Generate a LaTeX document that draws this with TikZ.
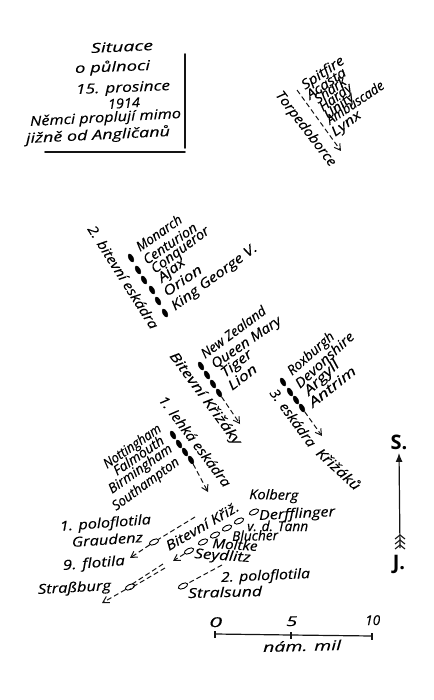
\documentclass[tikz,border=0pt]{standalone}
\usepackage{fontspec}
\setmainfont{Open Sans}[ItalicFeatures={FakeBold=0.25}]
\usetikzlibrary{shapes.geometric,arrows.meta}
\tikzset{
  ink/.style={black!92},
  rulerline/.style={ink,line width=1.6pt,line cap=round},
  shipfull/.style={ellipse,fill=black,draw=black,minimum width=9pt,minimum height=4.5pt,inner sep=0pt,rotate=-62},
  shipopen/.style={ellipse,draw=black,fill=white,line width=.9pt,minimum width=10pt,minimum height=5pt,inner sep=0pt,rotate=25},
  course/.style={ink,line width=1pt,dash pattern=on 5pt off 3pt},
  coursearrow/.style={course,-{Straight Barb[length=6pt,width=7pt,line width=1pt]}},
  handtext/.style={inner sep=0pt,anchor=base west,font=\itshape\fontsize{13.5}{14}\selectfont,text=black}
}
\newlength\handw
\newcommand{\handfont}{\itshape\fontsize{13.5}{14}\selectfont}
% name, start x,y, end x,y, text: fitted along the hand-written line
\newcommand{\hand}[6]{%
  \pgfinterruptpicture
    \setbox0=\hbox{\handfont #6}%
    \global\handw=\wd0\relax
  \endpgfinterruptpicture
  \pgfmathsetmacro\handang{atan2(#3-#5,#4-#2)}%
  \pgfmathsetmacro\handlen{veclen(#4-#2,#5-#3)}%
  \pgfmathsetmacro\handrat{\handlen/\the\handw}%
  \node[handtext,rotate=\handang] (#1) at (#2,#3) {\scalebox{\handrat}[1]{#6}};%
}
\begin{document}
\begin{tikzpicture}[x=1pt,y=-1pt]
\useasboundingbox (0,0) rectangle (433,700);
% title
\hand{t1}{91}{53}{153}{50}{Situace}
\hand{t2}{75}{73}{150}{70}{o půlnoci}
\hand{t3}{76}{94}{170}{90}{15. prosince}
\hand{t4}{108}{109}{140}{107}{1914}
\hand{t5}{30}{126}{181}{118}{Němci proplují mimo}
\hand{t6}{26}{143}{170}{136}{jižně od Angličanů}
\coordinate (ruleA) at (185,54);
\coordinate (ruleB) at (185,148);
\coordinate (ruleC) at (45,152);
\coordinate (ruleD) at (185,152);
\draw[rulerline] (ruleA) -- (ruleB);
\draw[rulerline] (ruleC) -- (ruleD);
% torpedo boats
\hand{torp}{275}{95}{330}{167}{Torpedoborce}
\hand{sp}{305}{90}{345}{63}{Spitfire}
\hand{ac}{310}{100}{347}{75}{Acasta}
\hand{sh}{318}{104}{347}{84}{Shark}
\hand{ha}{323}{112}{353}{90}{Hardy}
\hand{un}{328}{120}{355}{99}{Unity}
\hand{am}{330}{125}{385}{88}{Ambuscade}
\hand{ly}{335}{137}{362}{117}{Lynx}
\coordinate (tA) at (297,90);
\coordinate (tB) at (341,151);
\draw[coursearrow] (tA) -- (tB);
% 2nd battle squadron
\hand{b2}{87}{229}{151}{330}{2. bitevní eskádra}
\node[shipfull] (m1) at (131,258) {};
\node[shipfull] (m2) at (138,270) {};
\node[shipfull] (m3) at (144,280) {};
\node[shipfull] (m4) at (152,290) {};
\node[shipfull] (m5) at (158,301) {};
\node[shipfull] (m6) at (165,313) {};
\hand{n1}{140}{252}{183}{222}{Monarch}
\hand{n2}{147}{265}{198}{230}{Centurion}
\hand{n3}{155}{274}{210}{233}{Conqueror}
\hand{n4}{162}{283}{186}{264}{Ajax}
\hand{n5}{167}{297}{203}{272}{Orion}
\hand{n6}{175}{311}{258}{250}{King George V.}
% battle cruisers
\hand{bk}{169}{356}{235}{446}{Bitevní Křižáky}
\node[shipfull] (c1) at (201,366) {};
\node[shipfull] (c2) at (207,375) {};
\node[shipfull] (c3) at (213,384) {};
\node[shipfull] (c4) at (219,393) {};
\coordinate (cE) at (240,424);
\draw[coursearrow] (c4) -- (cE);
\hand{q1}{205}{359}{267}{313}{New Zealand}
\hand{q2}{215}{369}{282}{323}{Queen Mary}
\hand{q3}{225}{378}{253}{356}{Tiger}
\hand{q4}{232}{391}{258}{371}{Lion}
% 3rd cruiser squadron
\hand{e3}{269}{393}{309}{448}{3. eskádra}
\hand{e4}{315}{454}{355}{491}{Křižáků}
\node[shipfull] (r1) at (283,382) {};
\node[shipfull] (r2) at (290,392) {};
\node[shipfull] (r3) at (296,400) {};
\node[shipfull] (r4) at (302,408) {};
\coordinate (rE) at (322,436);
\draw[coursearrow] (r4) -- (rE);
\hand{x1}{292}{376}{335}{338}{Roxburgh}
\hand{x2}{300}{389}{355}{338}{Devonshire}
\hand{x3}{309}{396}{340}{366}{Argyll}
\hand{x4}{313}{408}{357}{373}{Antrim}
% 1st light cruiser squadron
\hand{l1}{158}{400}{224}{488}{1. lehká eskádra}
\node[shipfull] (s1) at (173,435) {};
\node[shipfull] (s2) at (179,444) {};
\node[shipfull] (s3) at (185,452) {};
\node[shipfull] (s4) at (191,460) {};
\coordinate (sE) at (208,492);
\draw[coursearrow] (s4) -- (sE);
\hand{o1}{107}{469}{162}{431}{Nottingham}
\hand{o2}{117}{476}{165}{443}{Falmouth}
\hand{o3}{112}{494}{173}{451}{Birmingham}
\hand{o4}{116}{511}{180}{464}{Southampton}
% light forces, left
\hand{p1}{60}{531}{151}{524}{1. poloflotila}
\hand{g1}{72}{547}{143}{542}{Graudenz}
\node[shipopen] (gs) at (154,542) {};
\coordinate (gA) at (195,517);
\coordinate (gE) at (130,558);
\draw[course] (gA) -- (gs);
\draw[coursearrow] (gs) -- (gE);
\hand{f9}{63}{570}{125}{565}{9. flotila}
\hand{st}{38}{594}{111}{590}{Straßburg}
\node[shipopen] (ss) at (130,587) {};
\coordinate (ssA) at (163,564);
\coordinate (ssB) at (165,568);
\coordinate (ssE) at (102,603);
\draw[course] (ssA) -- ([yshift=1.5pt]ss.center);
\draw[course] (ssB) -- ([yshift=-1.5pt]ss.center);
\draw[coursearrow] (ss) -- (ssE);
% German battle cruisers
\hand{kr}{169}{551}{240}{510}{Bitevní Křiž.}
\hand{ko}{249}{499}{298}{500}{Kolberg}
\node[shipopen] (d1) at (254,512) {};
\node[shipopen] (d2) at (239,521) {};
\node[shipopen] (d3) at (227,528) {};
\node[shipopen] (d4) at (215,535) {};
\node[shipopen] (d5) at (203,542) {};
\node[shipopen] (d6) at (189,551) {};
\coordinate (dE) at (173,561);
\draw[coursearrow] (d6) -- (dE);
\hand{w1}{259}{520}{335}{516}{Derfflinger}
\hand{w2}{247}{531}{308}{531}{v. d. Tann}
\hand{w3}{232}{541}{278}{540}{Blucher}
\hand{w4}{212}{548}{257}{551}{Moltke}
\hand{w5}{194}{558}{250}{562}{Seydlitz}
\hand{w6}{221}{582}{310}{578}{2. poloflotila}
\hand{w7}{188}{598}{262}{596}{Stralsund}
\node[shipopen] (sl) at (183,586) {};
\coordinate (slA) at (222,565);
\draw[course] (slA) -- (sl);
% north-south arrow
\node[font=\fontsize{20}{21}\selectfont\bfseries] (S) at (399,442) {S.};
\node[font=\fontsize{20}{21}\selectfont\bfseries] (J) at (399,564) {J.};
\coordinate (nsA) at (400,548);
\draw[ink,line width=1.2pt,-{Latex[length=9pt,width=7pt]}] (nsA) -- (S.south);
\foreach \yy in {535,540,545}
  \draw[ink,line width=1.1pt] (395,\yy+4) -- (400,\yy) -- (405,\yy+4);
% scale
\coordinate (z0) at (215,634);
\coordinate (z5) at (291,635);
\coordinate (z10) at (372,636);
\draw[ink,line width=1.2pt] (z0) -- (z5) -- (z10);
\foreach \pt in {z0,z5,z10}
  \draw[ink,line width=1.2pt] ([yshift=-3.5pt]\pt) -- ([yshift=3.5pt]\pt);
\hand{zl0}{209}{627}{222}{627}{0}
\hand{zl5}{286}{626}{297}{626}{5}
\hand{zl10}{365}{625}{380}{625}{10}
\hand{zl}{263}{652}{341}{650}{nám. mil}
\end{tikzpicture}
\end{document}
